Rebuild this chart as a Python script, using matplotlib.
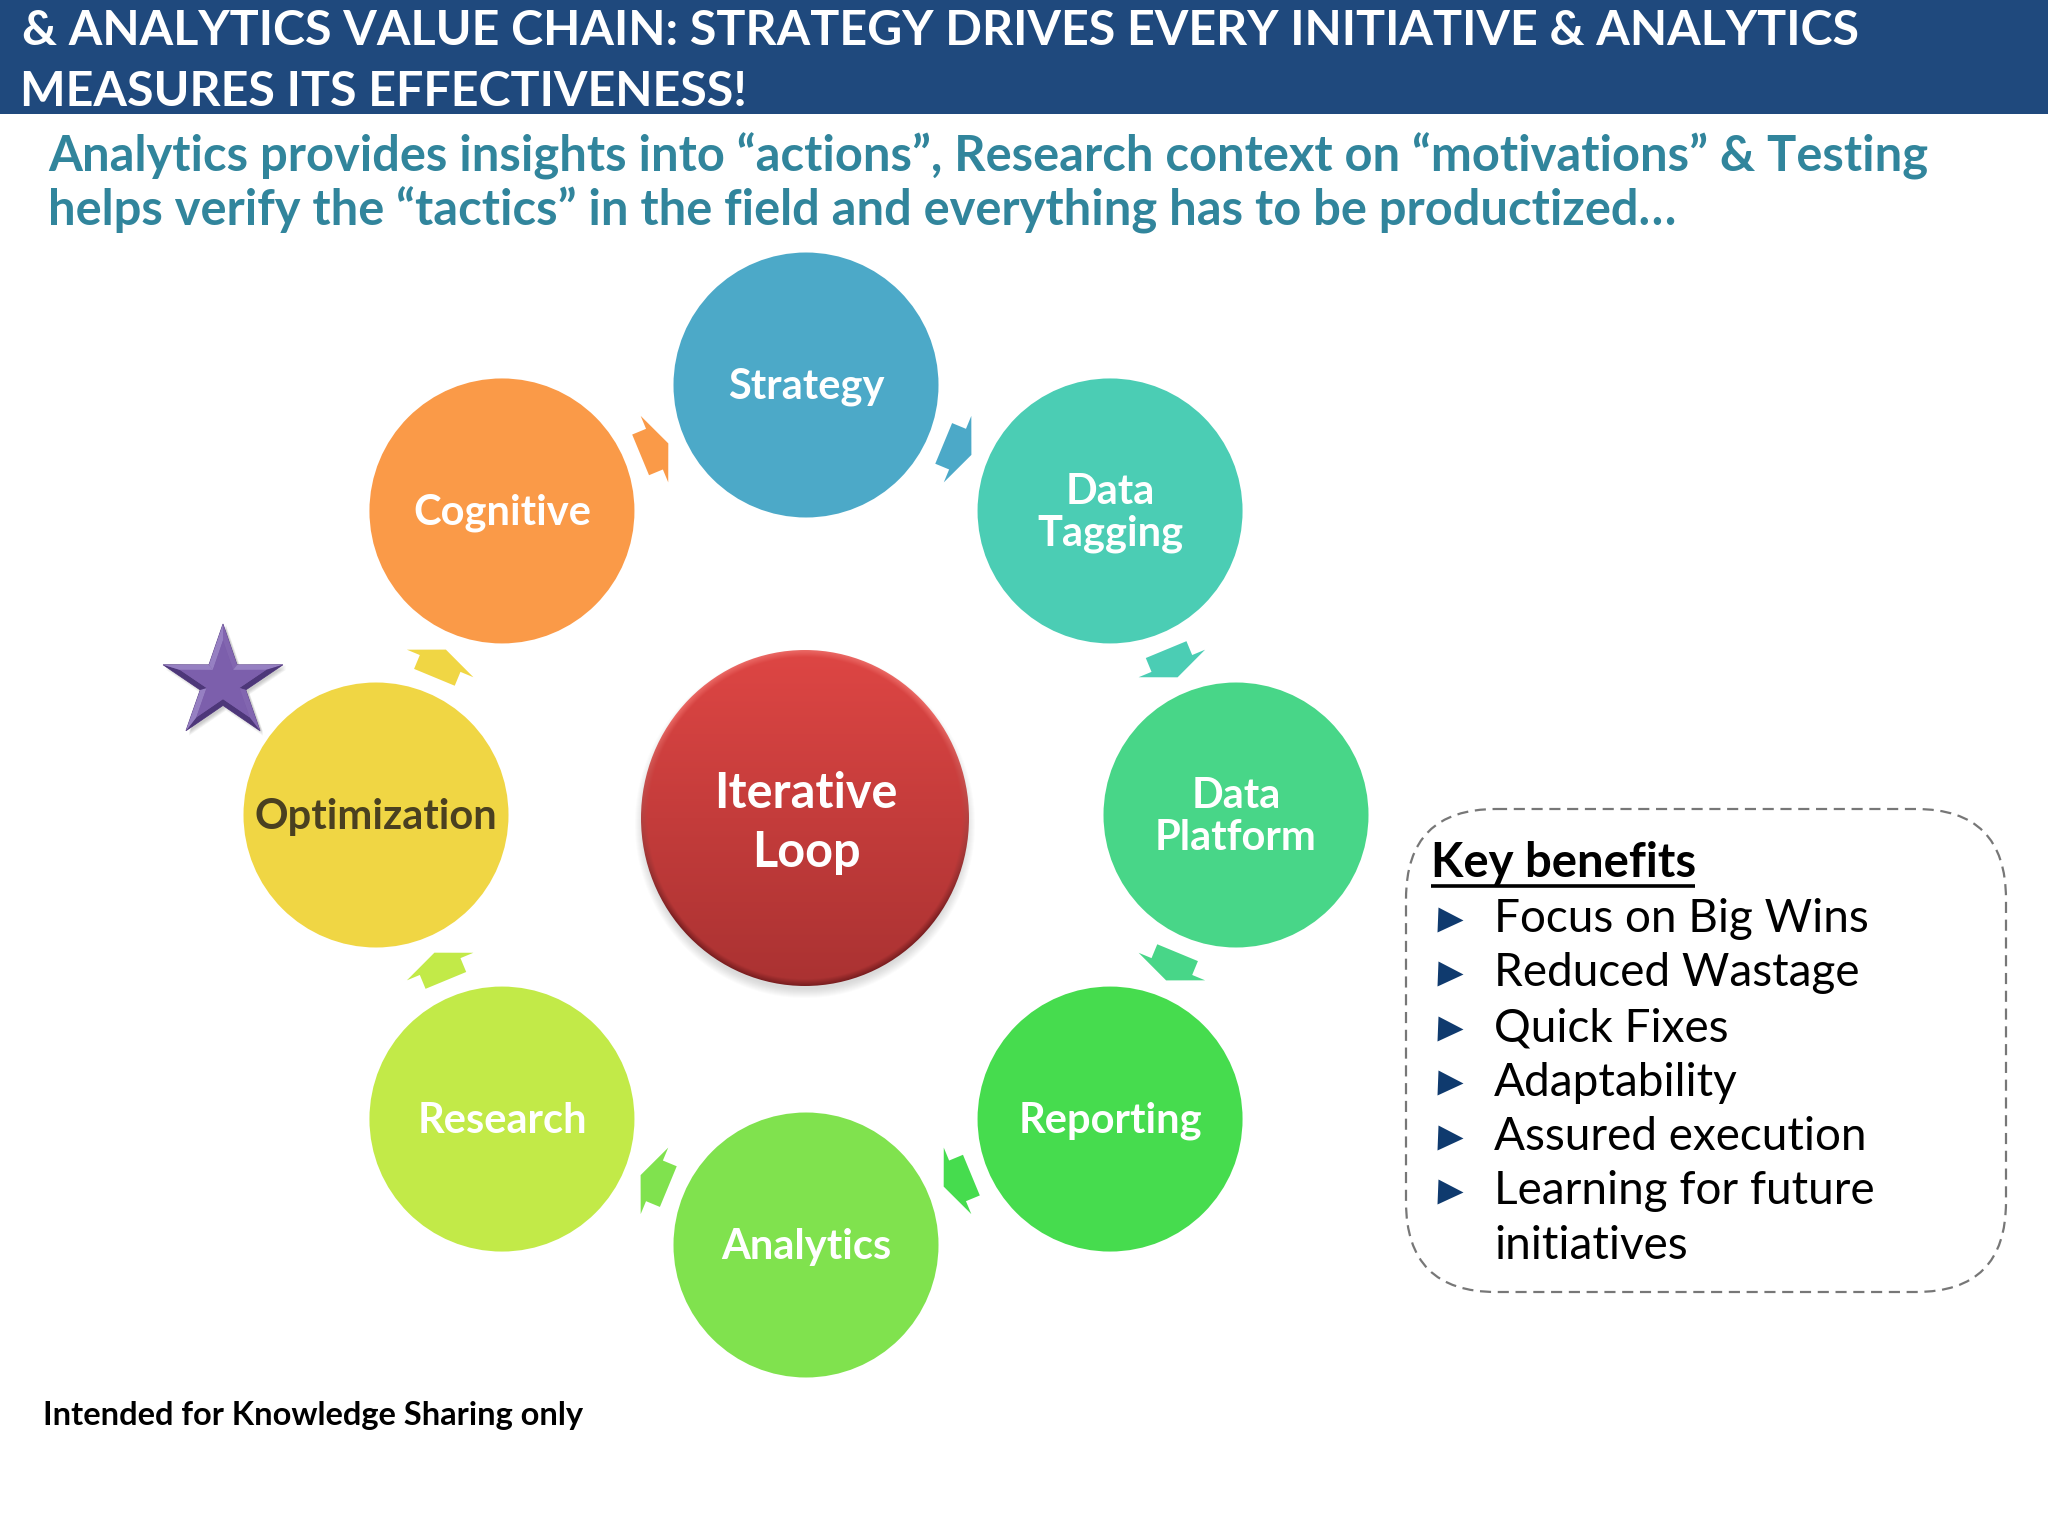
import numpy as np
import matplotlib
matplotlib.use('Agg')
import matplotlib.pyplot as plt
from matplotlib.patches import Circle, Ellipse, Polygon, Rectangle, FancyBboxPatch

# 文字内容
title_lines = ['& ANALYTICS VALUE CHAIN: STRATEGY DRIVES EVERY INITIATIVE & ANALYTICS',
               'MEASURES ITS EFFECTIVENESS!']
sub_lines = ['Analytics provides insights into “actions”, Research context on “motivations” & Testing',
             'helps verify the “tactics” in the field and everything has to be productized…']
node_names = ['Strategy', 'Data\nTagging', 'Data\nPlatform', 'Reporting',
              'Analytics', 'Research', 'Optimization', 'Cognitive']
node_colors = ['#4CA9C8', '#4BCDB4', '#48D688', '#46DC4E',
               '#80E24E', '#C2EA48', '#F0D644', '#FA9A48']
node_text = ['white', 'white', 'white', 'white', 'white', 'white', '#4A4020', 'white']
center_name = 'Iterative\nLoop'
benefit_head = 'Key benefits'
benefits = ['Focus on Big Wins', 'Reduced Wastage', 'Quick Fixes', 'Adaptability',
            'Assured execution', 'Learning for future\ninitiatives']
footer = 'Intended for Knowledge Sharing only'

BODY = ['Lato', 'DejaVu Sans']

fig = plt.figure(figsize=(20.48, 15.36), dpi=100)
ax = fig.add_axes([0, 0, 1, 1])
ax.set_xlim(0, 2048)
ax.set_ylim(1536, 0)
ax.axis('off')

# 标题栏
ax.add_patch(Rectangle((0, 0), 2048, 114, fc='#1F497D', ec='none'))
ax.text(22, 45, title_lines[0], color='white', fontsize=34.8, family=BODY, weight='bold', va='baseline')
ax.text(20, 106, title_lines[1], color='white', fontsize=34.8, family=BODY, weight='bold', va='baseline')
ax.text(48, 171, sub_lines[0], color='#31859C', fontsize=35.2, family=BODY, weight='bold', va='baseline')
ax.text(48, 225, sub_lines[1], color='#31859C', fontsize=35.2, family=BODY, weight='bold', va='baseline')

# 环形节点
cx, cy, ring, rad = 806, 815, 430, 132.5
for i, name in enumerate(node_names):
    a = np.radians(45 * i)
    x, y = cx + ring * np.sin(a), cy - ring * np.cos(a)
    ax.add_patch(Circle((x, y), rad, fc=node_colors[i], ec='none'))
    ax.text(x, y + 2, name, color=node_text[i], fontsize=30, family=BODY, weight='bold',
            ha='center', va='center', linespacing=1.1)

# 箭头
arrow_r, tail_w, head_w, shaft, tip = 396, 44, 72, 15, 15
for i in range(8):
    a = np.radians(22.5 + 45 * i)
    mid = np.array([cx + arrow_r * np.sin(a), cy - arrow_r * np.cos(a)])
    d = np.array([np.cos(a), np.sin(a)])
    n = np.array([-d[1], d[0]])
    s = -(shaft + tip) / 2
    j = s + shaft
    pts = [mid + d * s + n * tail_w / 2, mid + d * j + n * tail_w / 2, mid + d * j + n * head_w / 2,
           mid + d * (j + tip), mid + d * j - n * head_w / 2, mid + d * j - n * tail_w / 2,
           mid + d * s - n * tail_w / 2]
    ax.add_patch(Polygon(pts, closed=True, fc=node_colors[i], ec='none'))

# 中心红色按钮
ex, ey, erx, ery = 805, 818, 164, 168
yy, xx = np.mgrid[-1:1:400j, -1:1:400j]
dist = np.hypot(xx, yy)
t = (yy[..., None] + 1) / 2
top_c, bot_c = np.array([222, 70, 68]), np.array([170, 50, 50])
rgb = top_c * (1 - t) + bot_c * t
rim = np.clip((dist - 0.96) / 0.04, 0, 1)[..., None]
rim_t = np.clip((yy[..., None] + 0.6) / 1.2, 0, 1)
rim_c = np.array([234, 104, 100]) * (1 - rim_t) + np.array([122, 30, 32]) * rim_t
rgb = rgb * (1 - rim) + rim_c * rim
for k in range(10):
    ax.add_patch(Ellipse((ex, ey + 6), 2 * erx + 12 - 2 * k, 2 * ery + 12 - 2 * k, fc='#666666', alpha=0.025, ec='none'))
el = Ellipse((ex, ey), 2 * erx, 2 * ery, fc='none', ec='none')
ax.add_patch(el)
im = ax.imshow(rgb / 255, extent=(ex - erx, ex + erx, ey + ery, ey - ery), aspect='auto', origin='upper', zorder=2)
im.set_clip_path(el)
ax.set_xlim(0, 2048)
ax.set_ylim(1536, 0)
ax.text(ex + 1, ey + 5, center_name, color='white', fontsize=35, family=BODY, weight='bold',
        ha='center', va='center', linespacing=1.4, zorder=3)

# 五角星
sx, sy, srx, sry = 223, 683, 63, 59
ang = np.radians(np.arange(10) * 36)
ratio = np.where(np.arange(10) % 2 == 0, 1, 0.38)
star = np.c_[sx + srx * ratio * np.sin(ang), sy - sry * ratio * np.cos(ang)]
inner = np.c_[sx + (star[:, 0] - sx) * 0.72, sy + (star[:, 1] - sy) * 0.72]
for k in range(5):
    ax.add_patch(Polygon(star + [3, 5 - k], closed=True, fc='#444444', alpha=0.06, ec='none'))
ax.add_patch(Polygon(star, closed=True, fc='#7B5CA8', ec='#5A4285', lw=0.6))
for i in range(10):
    j = (i + 1) % 10
    e = star[j] - star[i]
    light = np.dot(np.array([e[1], -e[0]]) / np.hypot(*e), np.array([-0.3, -0.95]))
    col = '#9680C2' if light > 0.5 else ('#8266B0' if light > -0.2 else '#4D3779')
    ax.add_patch(Polygon([star[i], star[j], inner[j], inner[i]], closed=True, fc=col, ec='none'))
ax.add_patch(Polygon(inner, closed=True, fc='#7C5FAC', ec='none'))

# Key benefits 框
ax.add_patch(FancyBboxPatch((1406, 809), 600, 483, boxstyle='round,pad=0,rounding_size=90',
                            fc='white', ec='#777777', lw=1.6, linestyle=(0, (5, 3))))
ax.text(1431, 877, benefit_head, color='black', fontsize=34, family=BODY, weight='bold', va='baseline')
ax.plot([1431, 1695], [886, 886], color='black', lw=2.6, solid_capstyle='butt')
line_h = 54.5
y = 932
for item in benefits:
    ax.plot(1449.5, y - 12.5, marker='>', ms=18, color='#0F3A6E', mec='none')
    for part in item.split('\n'):
        ax.text(1494, y, part, color='black', fontsize=33, family=BODY, va='baseline')
        y += line_h

ax.text(43, 1425, footer, color='black', fontsize=23.5, family=BODY, weight='bold', va='baseline')

fig.savefig('out.png', dpi=100)
